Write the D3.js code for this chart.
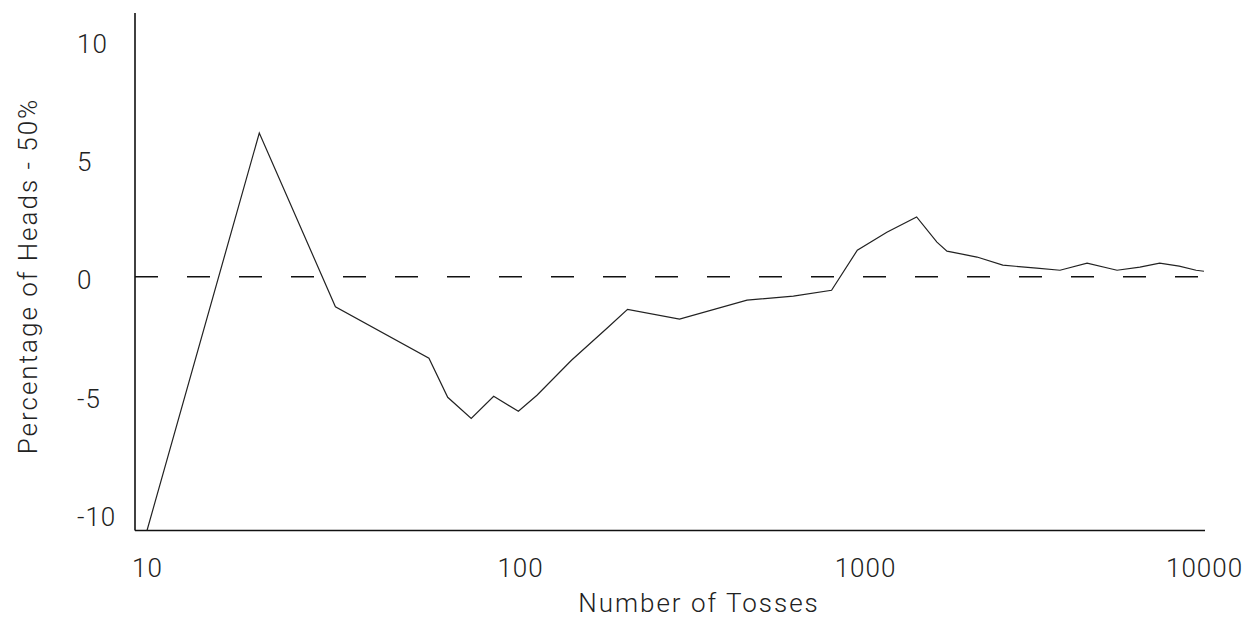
<!doctype html>
<html>
  <head>
    <meta charset="utf-8">
    <title>Coin tosses</title>
    <script src="https://d3js.org/d3.v7.min.js"></script>
    <style>
      body { margin: 0; background: #fff; }
      text { font-family: Roboto, "Liberation Sans", sans-serif; font-weight: 300; fill: #222; }
    </style>
  </head>
  <body>
    <script>
      // number of tosses (log axis)
      const tosses = [10, 20, 32, 57, 64, 74, 85, 99, 112, 141, 180, 205, 290, 455, 620, 800,
                      950, 1160, 1420, 1630, 1745, 2140, 2550, 3210, 3760, 4520, 5540, 6470,
                      7400, 8450, 9480, 10000];
      // percentage of heads minus 50%
      const diff = [-10, 5.67, -1.18, -3.21, -4.75, -5.58, -4.71, -5.30, -4.67, -3.29, -1.99, -1.28, -1.67,
                    -0.92, -0.76, -0.53, 1.05, 1.76, 2.36, 1.37, 1.01, 0.78, 0.46, 0.34, 0.26, 0.54,
                    0.26, 0.38, 0.54, 0.42, 0.26, 0.22];

      const xTicks = [10, 100, 1000, 10000];
      const yTicks = [10, 5, 0, -5, -10];

      const width = 1257;
      const height = 617;

      const svg = d3.select('body').append('svg')
          .attr('width', width)
          .attr('height', height);

      // x: log axis, decades are not quite equal in the original
      const x = d3.scaleLog()
          .domain([10, 100, 1000, 10000])
          .range([147, 520, 865, 1204]);

      const y = d3.scaleLinear()
          .domain([-10, 10.4])
          .range([530.5, 13]);

      // the tick labels sit on a slightly compressed scale of their own
      const yLabel = d3.scaleLinear()
          .domain([-10, 10])
          .range([516, 43]);

      const left = 135;

      // axis lines
      svg.append('line')
          .attr('x1', left).attr('x2', left)
          .attr('y1', y.range()[1]).attr('y2', y(-10))
          .attr('stroke', '#111').attr('stroke-width', 1.6);

      svg.append('line')
          .attr('x1', left).attr('x2', x(10000) + 1)
          .attr('y1', y(-10)).attr('y2', y(-10))
          .attr('stroke', '#111').attr('stroke-width', 1.6);

      // dashed zero line
      svg.append('line')
          .attr('x1', left).attr('x2', x(10000))
          .attr('y1', y(0)).attr('y2', y(0))
          .attr('stroke', '#111').attr('stroke-width', 1.6)
          .attr('stroke-dasharray', '23,29');

      // tick labels
      const xAxis = svg.append('g')
          .attr('transform', `translate(0,${y(-10)})`)
          .call(d3.axisBottom(x).tickValues(xTicks).tickSize(0).tickPadding(0).tickFormat(d => String(d)));
      xAxis.select('.domain').remove();
      xAxis.attr('font-family', null);
      xAxis.selectAll('text')
          .attr('y', 46)
          .attr('dy', null)
          .attr('font-size', 26)
          .attr('letter-spacing', 1);

      const yAxis = svg.append('g')
          .call(d3.axisLeft(yLabel).tickValues(yTicks).tickSize(0).tickFormat(d => String(d)));
      yAxis.select('.domain').remove();
      yAxis.attr('font-family', null);
      yAxis.selectAll('text')
          .attr('x', 77)
          .attr('dy', '0.36em')
          .attr('text-anchor', 'start')
          .attr('font-size', 26)
          .attr('letter-spacing', 1);

      // the series
      const line = d3.line()
          .x((d, i) => x(tosses[i]))
          .y(d => y(d));

      svg.append('path')
          .datum(diff)
          .attr('d', line)
          .attr('fill', 'none')
          .attr('stroke', '#222')
          .attr('stroke-width', 1.2);

      // axis titles
      svg.append('text')
          .attr('x', 699)
          .attr('y', 612)
          .attr('text-anchor', 'middle')
          .attr('font-size', 26)
          .attr('letter-spacing', 2)
          .text('Number of Tosses');

      svg.append('text')
          .attr('transform', 'translate(37,276) rotate(-90)')
          .attr('text-anchor', 'middle')
          .attr('font-size', 26)
          .attr('letter-spacing', 2)
          .text('Percentage of Heads - 50%');
    </script>
  </body>
</html>
